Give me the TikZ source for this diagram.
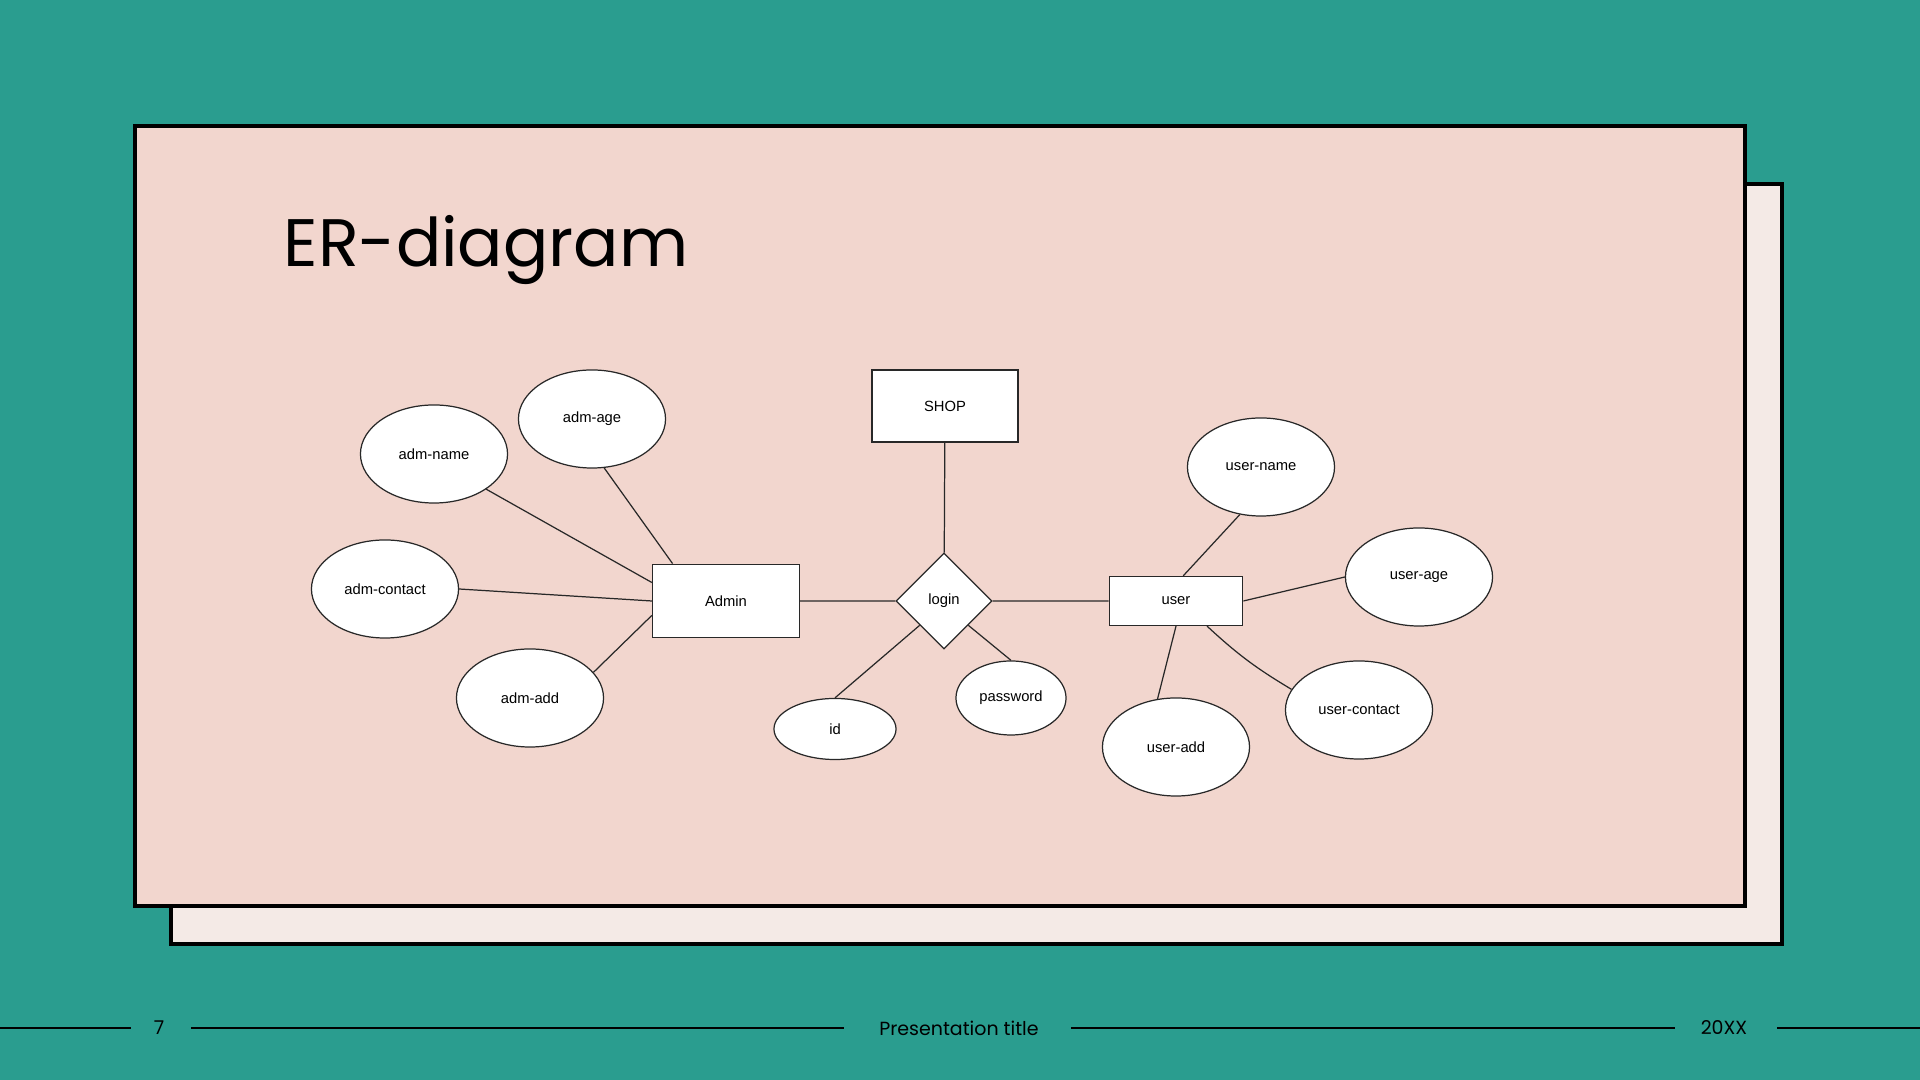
\documentclass[tikz,border=0pt]{standalone}
\usepackage{fontspec}
\setmainfont{Liberation Sans}
\newfontfamily\slidefont{Poppins}
\usetikzlibrary{shapes.geometric, calc}
\definecolor{slideteal}{RGB}{42,157,143}
\definecolor{slidepink}{RGB}{242,214,206}
\definecolor{slideshadow}{RGB}{244,234,230}
\definecolor{erline}{RGB}{40,40,40}
\tikzset{
x=0.01cm, y=-0.01cm, % one unit is one pixel of the slide
entity/.style={rectangle, draw=erline, fill=white, line width=0.35pt, inner sep=0pt, font=\fontsize{4.2}{5}\selectfont}, % entity boxes
attr/.style={ellipse, draw=erline, fill=white, line width=0.35pt, inner sep=0pt, minimum width=1.47cm, minimum height=0.98cm, font=\fontsize{4.2}{5}\selectfont}, % attribute ovals
relation/.style={diamond, draw=erline, fill=white, line width=0.35pt, inner sep=0pt, minimum size=0.96cm, font=\fontsize{4.2}{5}\selectfont}, % relationship
link/.style={draw=erline, line width=0.35pt}, % connectors
footline/.style={line width=0.7pt, black},
footer/.style={font=\slidefont\fontsize{5.4}{6}\selectfont},
}

\begin{document}
\begin{tikzpicture}
    % slide background and cards
    \fill[slideteal] (0,0) rectangle (1920,1080);
    \useasboundingbox (0,0) rectangle (1920,1080);
    \draw[line width=1.2pt, fill=slideshadow] (171,184) rectangle (1782,944);
    \draw[line width=1.2pt, fill=slidepink] (135,126) rectangle (1745,906);
    \node[anchor=base west, inner sep=0pt, font=\slidefont\fontsize{19.1}{23}\selectfont] (title) at (283,267) {ER-diagram};

    % entities and relationship
    \node[entity, minimum width=1.47cm, minimum height=0.735cm] (admin) at (726,601) {Admin};
    \node[entity, minimum width=1.46cm, minimum height=0.72cm] (shop) at (945,406) {SHOP};
    \node[relation] (login) at (944,601) {login};
    \node[entity, minimum width=1.335cm, minimum height=0.49cm] (user) at (1176,601) {user};

    % attributes
    \node[attr] (admname) at (434,454) {adm-name};
    \node[attr] (admage) at (592,419) {adm-age};
    \node[attr] (admcontact) at (385,589) {adm-contact};
    \node[attr] (admadd) at (530,698) {adm-add};
    \node[attr, minimum width=1.22cm, minimum height=0.61cm] (id) at (835,729) {id};
    \node[attr, minimum width=1.1cm, minimum height=0.74cm] (password) at (1011,698) {password};
    \node[attr] (username) at (1261,467) {user-name};
    \node[attr] (userage) at (1419,577) {user-age};
    \node[attr] (usercontact) at (1359,710) {user-contact};
    \node[attr] (useradd) at (1176,747) {user-add};

    \draw[link] (admname.326) -- (admin.166)
    (admage.284) -- (admin.145)
    (admcontact.east) -- (admin.west)
    (admadd.22) -- (admin.191)
    (admin) -- (login)
    (shop) -- (login)
    (login) -- (user)
    (login.225) -- (id.north)
    (login.315) -- (password.north)
    (user.74) -- (username.246)
    (user.east) -- (userage.west)
    (user.321) to[bend right=6] (usercontact.163)
    (user.south) -- (useradd.111);

    % footer
    \node[footer] (pagenum) at (159,1028) {7};
    \node[footer] (ptitle) at (959,1028) {Presentation title};
    \node[footer] (year) at (1724,1028) {20XX};
    \coordinate (fl) at (0,1028);
    \coordinate (fr) at (1920,1028);
    \draw[footline] (fl) -- (131,1028);
    \draw[footline] (191,1028) -- (844,1028);
    \draw[footline] (1071,1028) -- (1675,1028);
    \draw[footline] (1777,1028) -- (fr);
  \end{tikzpicture}
\end{document}
